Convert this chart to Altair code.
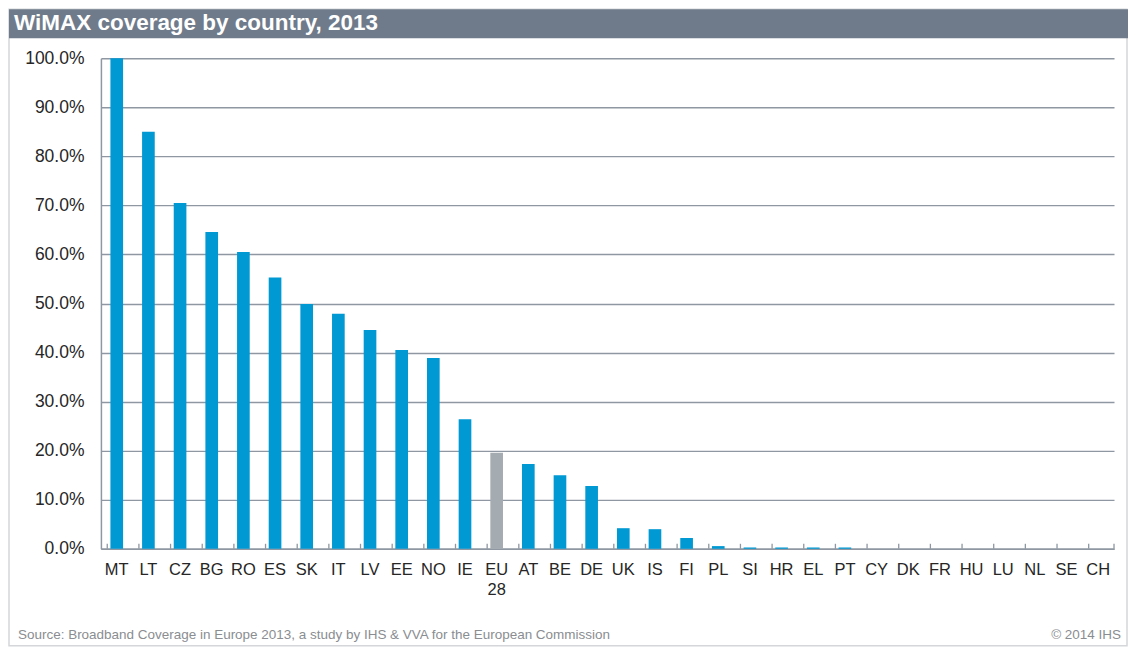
import altair as alt
import pandas as pd

countries = ["MT", "LT", "CZ", "BG", "RO", "ES", "SK", "IT", "LV", "EE", "NO", "IE", "EU 28",
             "AT", "BE", "DE", "UK", "IS", "FI", "PL", "SI", "HR", "EL", "PT", "CY", "DK",
             "FR", "HU", "LU", "NL", "SE", "CH"]
coverage_pct = [100.0, 85.0, 70.5, 64.6, 60.5, 55.3, 49.9, 47.9, 44.6, 40.5, 38.9, 26.4, 19.6,
                17.3, 15.0, 12.8, 4.2, 4.0, 2.2, 0.55, 0.27, 0.27, 0.27, 0.27, 0, 0,
                0, 0, 0, 0, 0, 0]
y_ticks = [0.0, 0.1, 0.2, 0.3, 0.4, 0.5, 0.6, 0.7, 0.8, 0.9, 1.0]
title_text = "WiMAX coverage by country, 2013"
source_text = "Source: Broadband Coverage in Europe 2013, a study by IHS & VVA for the European Commission"
copyright_text = "© 2014 IHS"

W, H = 1014, 491
STEP = W / len(countries)
FONT = "Liberation Sans"
BLUE = "#0099d4"
GREY_BAR = "#a5acb1"
GRID = "#8e97a2"
TEXT = "#262626"

df = pd.DataFrame({
    "country": countries,
    "share": [v / 100 for v in coverage_pct],
    "is_eu": [c == "EU 28" for c in countries],
})

x_axis = alt.Axis(labelAngle=0, ticks=False, domainColor=GRID, domainWidth=1.5,
                  labelFont=FONT, labelFontSize=16.5, labelColor=TEXT, labelPadding=13,
                  labelLineHeight=20, title=None, grid=False,
                  labelExpr="split(datum.label, ' ')")
x_scale = alt.Scale(paddingInner=0.6, paddingOuter=0.3)
x_enc = alt.X("country:N", sort=countries, scale=x_scale, axis=x_axis)

one = pd.DataFrame({"t": [""]})

frame = alt.Chart(one).mark_rect(fillOpacity=0, stroke="#d4d6d9", strokeWidth=1.5).encode(
    x=alt.value(-92), x2=alt.value(1027), y=alt.value(-49), y2=alt.value(588))

title_bar = alt.Chart(one).mark_rect(fill="#6f7b8b").encode(
    x=alt.value(-92), x2=alt.value(1028), y=alt.value(-49), y2=alt.value(-20))

bars = alt.Chart(df).mark_bar().encode(
    x=x_enc,
    y=alt.Y("share:Q", scale=alt.Scale(domain=[0, 1], nice=False),
            axis=alt.Axis(values=y_ticks, format=".1%", ticks=False, domainColor=GRID,
                          domainWidth=1.5, gridColor=GRID, gridWidth=1.4, gridOpacity=1,
                          labelFont=FONT, labelFontSize=17.5, labelColor=TEXT,
                          labelPadding=17, title=None)),
    color=alt.condition("datum.is_eu", alt.value(GREY_BAR), alt.value(BLUE)),
)

ticks = alt.Chart(df).mark_rule(color=GRID, strokeWidth=1.3, xOffset=-STEP * 0.3).encode(
    x=x_enc, y=alt.value(H), y2=alt.value(H - 5))

last_tick = alt.Chart(one).mark_rule(color=GRID, strokeWidth=1.3).encode(
    x=alt.value(W), y=alt.value(H), y2=alt.value(H - 5))

title = alt.Chart(pd.DataFrame({"t": [title_text]})).mark_text(
    align="left", baseline="alphabetic", font=FONT, fontSize=22.5, fontWeight="bold",
    color="white").encode(x=alt.value(-87), y=alt.value(-28), text="t:N")

source = alt.Chart(pd.DataFrame({"t": [source_text]})).mark_text(
    align="left", baseline="middle", font=FONT, fontSize=13.5, color="#8a8d91").encode(
    x=alt.value(-83), y=alt.value(577), text="t:N")

copyr = alt.Chart(pd.DataFrame({"t": [copyright_text]})).mark_text(
    align="right", baseline="middle", font=FONT, fontSize=13.5, color="#8a8d91").encode(
    x=alt.value(1021), y=alt.value(577), text="t:N")

chart = alt.layer(frame, title_bar, bars, ticks, last_tick, title, source, copyr).properties(
    width=W, height=H, padding=0, background="white"
).configure_view(stroke=None)

chart.save("out.html", embed_options={"renderer": "svg", "actions": False})
